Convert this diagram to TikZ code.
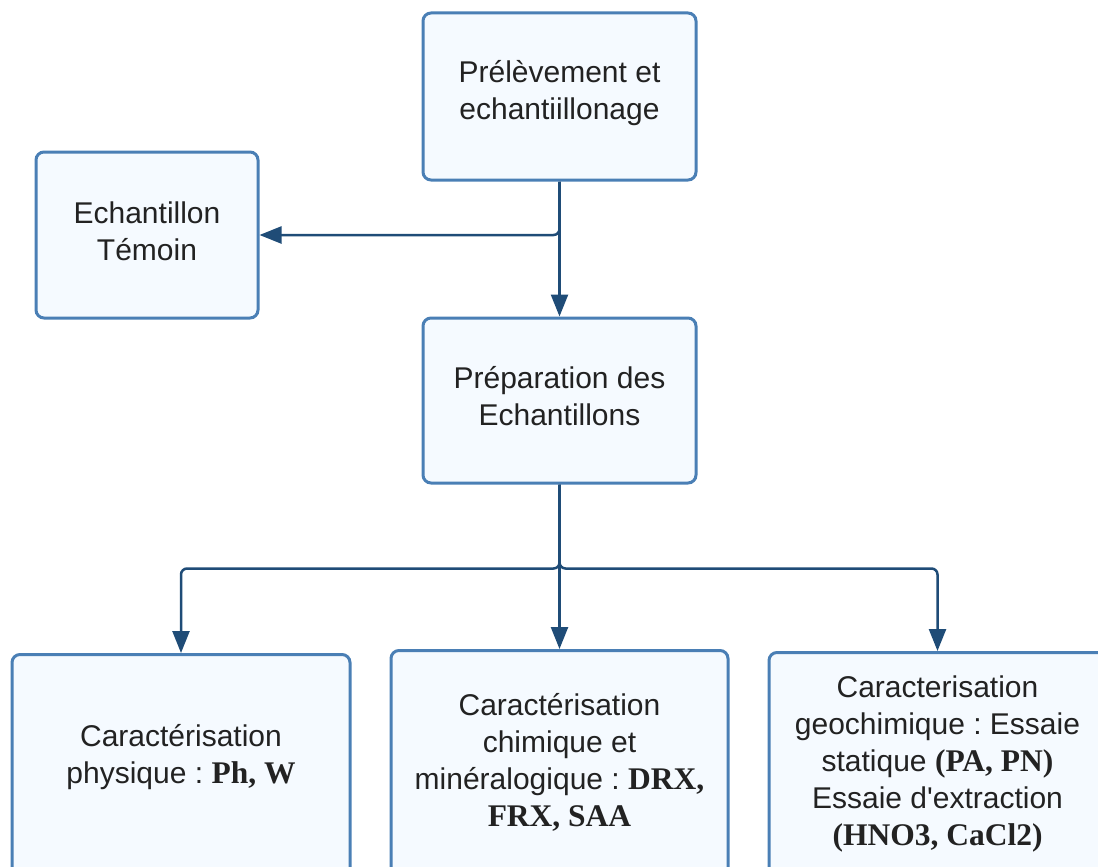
\documentclass[tikz,border=0pt]{standalone}
\usepackage{fontspec}
\setmainfont{Liberation Sans}[Ligatures=TeXOff]
\newfontfamily\serifb{Liberation Serif}[Scale=1.05]
\newcommand\sbf[1]{{\serifb\bfseries #1}}
\usetikzlibrary{arrows.meta}
\definecolor{boxfill}{HTML}{F5FAFF}
\definecolor{boxline}{HTML}{4A7FB5}
\definecolor{arrcol}{HTML}{1F4C77}
\definecolor{txtcol}{HTML}{222222}
\tikzset{
  box/.style={draw=boxline, fill=boxfill, line width=3pt, rounded corners=8pt, inner sep=0pt},
  txt/.style={text=txtcol, align=center, font=\fontsize{30}{37}\selectfont\frenchspacing, inner sep=0pt},
  arr/.style={draw=arrcol, line width=2.5pt, -{Triangle[width=17pt,length=22pt]}, rounded corners=6pt}
}
\begin{document}
\begin{tikzpicture}[x=1pt,y=-1pt]
\useasboundingbox (0,0) rectangle (1098,867);
\clip (0,0) rectangle (1098,867);
\node[box, minimum width=273pt, minimum height=167pt] (top) at (559.5,96.5) {};
\node[txt] (topt) at (559.5,93) {Prélèvement et\\echantiillonage};
\node[box, minimum width=222pt, minimum height=166pt] (tem) at (147,235) {};
\node[txt] (temt) at (147,231) {Echantillon\\Témoin};
\node[box, minimum width=273pt, minimum height=165pt] (prep) at (559.5,400.5) {};
\node[txt] (prept) at (559.5,396) {Préparation des\\Echantillons};
\node[box, minimum width=338pt, minimum height=260pt, anchor=north] (c1) at (181,653) {};
\node[txt] (c1t) at (181,757) {Caractérisation\\physique : \sbf{Ph, W}};
\node[box, minimum width=337pt, minimum height=260pt, anchor=north] (c2) at (559.5,649) {};
\node[txt] (c2t) at (559.5,762) {Caractérisation\\chimique et\\minéralogique : \sbf{DRX,}\\\sbf{FRX, SAA}};
\node[box, minimum width=337pt, minimum height=260pt, anchor=north] (c3) at (937.5,651) {};
\node[txt] (c3t) at (937.5,764) {Caracterisation\\geochimique : Essaie\\statique \sbf{(PA, PN)}\\Essaie d'extraction\\\sbf{(HNO3, CaCl2)}};
\draw[arr] (top.south) -- (prep.north);
\draw[arr] (top.south) |- (tem.east);
\draw[arr] (prep.south) -- (c2.north);
\draw[arr] (prep.south) -- ++(0,84) -| (c1.north);
\draw[arr] (prep.south) -- ++(0,84) -| (c3.north);
\end{tikzpicture}
\end{document}
